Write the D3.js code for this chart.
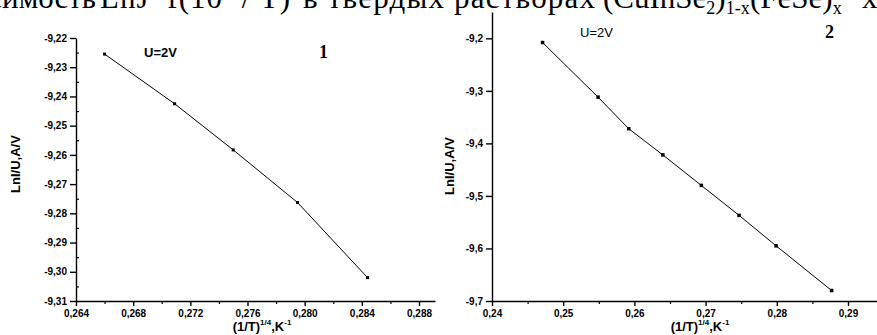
<!DOCTYPE html>
<html>
<head>
<meta charset="utf-8">
<script src="https://cdn.jsdelivr.net/npm/d3@7"></script>
<style>
body { margin: 0; background: #fff; }
svg { display: block; }
.tick text { font-family: Arial, "Liberation Sans", sans-serif; font-weight: bold; font-size: 10px; fill: #000; }
.axis path, .axis line { stroke: #000; stroke-width: 1.4; }
.minor line { stroke-width: 1.2; }
.title { font-family: Arial, "Liberation Sans", sans-serif; font-weight: bold; font-size: 13px; fill: #000; }
.head { font-family: "Times New Roman", "Liberation Serif", serif; font-size: 31px; fill: #000; }
.num { font-family: "Times New Roman", "Liberation Serif", serif; font-weight: bold; font-size: 18px; fill: #000; }
</style>
</head>
<body>
<svg id="chart" width="877" height="335"></svg>
<script>
// panel 1
const x1 = [0.2660, 0.2709, 0.2750, 0.2795, 0.2844]
const y1 = [-9.2255, -9.2425, -9.2583, -9.2763, -9.3020]
const xTicks1 = [0.264, 0.268, 0.272, 0.276, 0.280, 0.284, 0.288]
const xMinor1 = [0.266, 0.270, 0.274, 0.278, 0.282, 0.286]
const yTicks1 = [-9.22, -9.23, -9.24, -9.25, -9.26, -9.27, -9.28, -9.29, -9.30, -9.31]
const yMinor1 = [-9.225, -9.235, -9.245, -9.255, -9.265, -9.275, -9.285, -9.295, -9.305]

// panel 2
const x2 = [0.2471, 0.2549, 0.2592, 0.2640, 0.2694, 0.2747, 0.2799, 0.2877]
const y2 = [-9.208, -9.312, -9.372, -9.422, -9.480, -9.537, -9.595, -9.680]
const xTicks2 = [0.24, 0.25, 0.26, 0.27, 0.28, 0.29]
const xMinor2 = [0.245, 0.255, 0.265, 0.275, 0.285]
const yTicks2 = [-9.2, -9.3, -9.4, -9.5, -9.6, -9.7]

const fmt3 = d => d3.format('.3f')(d).replace('.', ',')
const fmt2 = d => d3.format('.2f')(d).replace('.', ',').replace('−', '-')
const fmt1 = d => d3.format('.1f')(d).replace('.', ',').replace('−', '-')

const svg = d3.select('#chart')

// heading line from the page, cut by the top edge as in the scan
const headY = 8

svg.append('text')
	.attr('class', 'head')
	.attr('x', 96)
	.attr('y', headY)
	.attr('text-anchor', 'end')
	.text('зависимость')

const hB = svg.append('text').attr('class', 'head').attr('x', 100).attr('y', headY)
	.attr('textLength', 190)
	.attr('lengthAdjust', 'spacing')
hB.append('tspan').text('LnJ~f(10')
hB.append('tspan').attr('dy', -12).attr('font-size', 18).text('3')
hB.append('tspan').attr('dy', 12).text(' / T)')

svg.append('text')
	.attr('class', 'head')
	.attr('x', 303)
	.attr('y', headY)
	.attr('textLength', 292)
	.attr('lengthAdjust', 'spacing')
	.text('в твердых растворах')

const hD = svg.append('text').attr('class', 'head').attr('x', 603).attr('y', headY)
hD.append('tspan').text('(CuInSe')
hD.append('tspan').attr('dy', 6).attr('font-size', 18).text('2')
hD.append('tspan').attr('dy', -6).text(')')
hD.append('tspan').attr('dy', 6).attr('font-size', 18).text('1-x')

const hE = svg.append('text').attr('class', 'head').attr('x', 750).attr('y', headY)
hE.append('tspan').text('(FeSe)')
hE.append('tspan').attr('dy', 6).attr('font-size', 18).text('x')

svg.append('text')
	.attr('class', 'head')
	.attr('x', 862)
	.attr('y', headY)
	.text('x')

const drawPanel = p => {
	const g = svg.append('g')

	const xs = d3.scaleLinear().domain(p.xDomain).range(p.xRange)
	const ys = d3.scaleLinear().domain(p.yDomain).range(p.yRange)

	// minor ticks
	if (p.xMinor) {
		g.append('g')
			.attr('class', 'axis minor')
			.attr('transform', 'translate(0,' + p.yRange[0] + ')')
			.call(d3.axisBottom(xs).tickValues(p.xMinor).tickSize(3).tickFormat(''))
			.select('.domain').remove()
	}
	if (p.yMinor) {
		g.append('g')
			.attr('class', 'axis minor')
			.attr('transform', 'translate(' + p.xRange[0] + ',0)')
			.call(d3.axisRight(ys).tickValues(p.yMinor).tickSize(3).tickFormat(''))
			.select('.domain').remove()
	}

	g.append('g')
		.attr('class', 'axis')
		.attr('transform', 'translate(0,' + p.yRange[0] + ')')
		.call(d3.axisBottom(xs).tickValues(p.xTicks).tickSize(5).tickSizeOuter(0).tickPadding(4).tickFormat(p.xFmt))

	g.append('g')
		.attr('class', 'axis')
		.attr('transform', 'translate(' + p.xRange[0] + ',0)')
		.call(d3.axisLeft(ys).tickValues(p.yTicks).tickSize(6).tickSizeOuter(0).tickPadding(3).tickFormat(p.yFmt))

	const pts = p.x.map((d, i) => [d, p.y[i]])

	g.append('path')
		.datum(pts)
		.attr('fill', 'none')
		.attr('stroke', '#000')
		.attr('stroke-width', 1)
		.attr('d', d3.line().x(d => xs(d[0])).y(d => ys(d[1])))

	g.selectAll('.pt')
		.data(pts)
		.enter()
		.append('rect')
		.attr('x', d => xs(d[0]) - p.ms / 2)
		.attr('y', d => ys(d[1]) - p.ms / 2)
		.attr('width', p.ms)
		.attr('height', p.ms)
		.attr('fill', '#000')

	// x title
	const xt = g.append('text')
		.attr('class', 'title')
		.attr('x', p.xTitleX)
		.attr('y', 331)
		.attr('text-anchor', 'middle')
	xt.append('tspan').text('(1/T)')
	xt.append('tspan').attr('dy', -6).attr('font-size', 8).text('1/4')
	xt.append('tspan').attr('dy', 6).text(',K')
	xt.append('tspan').attr('dy', -6).attr('font-size', 8).text('-1')

	// y title
	g.append('text')
		.attr('class', 'title')
		.attr('transform', 'translate(' + p.yTitleX + ',' + p.yTitleY + ') rotate(-90)')
		.attr('text-anchor', 'middle')
		.text('LnI/U,A/V')

	g.append('text')
		.attr('class', 'title')
		.attr('x', p.uX)
		.attr('y', p.uY)
		.style('font-weight', p.uBold ? 'bold' : 'normal')
		.text('U=2V')

	g.append('text')
		.attr('class', 'num')
		.attr('x', p.nX)
		.attr('y', p.nY)
		.text(p.num)
}

drawPanel({
	x: x1, y: y1,
	xDomain: [0.264, 0.264 + (435 - 76) / 343 * 0.024], xRange: [76, 435],
	yDomain: [-9.31, -9.22], yRange: [301, 38],
	xTicks: xTicks1, xMinor: xMinor1, yTicks: yTicks1, yMinor: yMinor1,
	xFmt: fmt3, yFmt: fmt2, ms: 3,
	xTitleX: 262, yTitleX: 20, yTitleY: 164,
	uX: 144, uY: 57, uBold: true,
	nX: 319, nY: 58, num: '1'
})

drawPanel({
	x: x2, y: y2,
	xDomain: [0.24, 0.24 + (878 - 492) / 356 * 0.05], xRange: [492, 878],
	yDomain: [-9.7, -9.2 + (38.3 - 12) / 52.5 * 0.1], yRange: [301, 12],
	xTicks: xTicks2, xMinor: xMinor2, yTicks: yTicks2, yMinor: null,
	xFmt: fmt2, yFmt: fmt1, ms: 3.5,
	xTitleX: 700, yTitleX: 454, yTitleY: 166,
	uX: 580, uY: 37, uBold: false,
	nX: 825, nY: 38, num: '2'
})
</script>
</body>
</html>
